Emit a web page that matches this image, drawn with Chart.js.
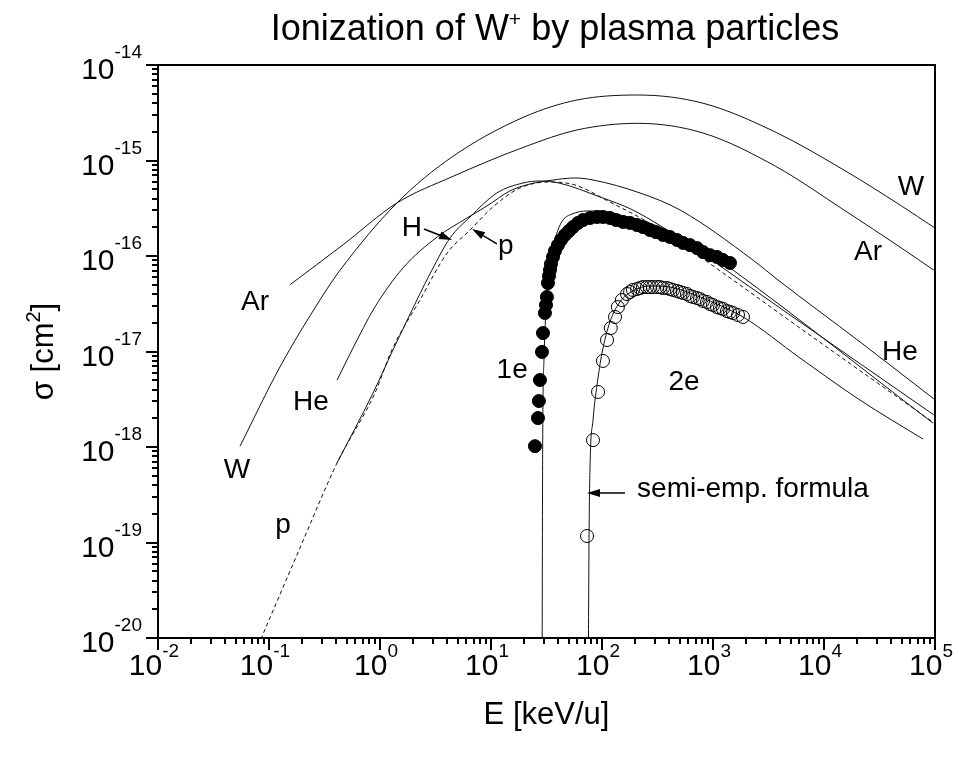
<!DOCTYPE html>
<html>
<head>
<meta charset="utf-8">
<title>Ionization of W+ by plasma particles</title>
<script src="https://cdn.jsdelivr.net/npm/chart.js@4.4.1/dist/chart.umd.min.js"></script>
<style>
  html, body { margin: 0; padding: 0; background: #fff; }
  canvas { display: block; }
</style>
</head>
<body>
<canvas id="ionChart" width="958" height="758"></canvas>
<script>
// energies in keV/u, cross sections in cm^2

// W projectile
const wE = [0.0548, 0.1256, 0.288, 0.4365, 1.42, 4.46, 19.8, 59.6, 209, 813, 3630, 16100, 48400, 100000];
const wSigma = [1.02e-18, 6.9e-18, 3.47e-17, 7.1e-17, 3.59e-16, 1.09e-15, 2.85e-15, 4.3e-15, 4.85e-15, 3.98e-15, 1.99e-15, 7.6e-16, 3.42e-16, 1.96e-16];

// Ar projectile
const arE = [0.1545, 0.468, 1.42, 4.46, 19.8, 59.6, 209, 813, 3630, 16100, 48400, 100000];
const arSigma = [5.0e-17, 1.32e-16, 3.59e-16, 6.76e-16, 1.38e-15, 2.09e-15, 2.45e-15, 1.94e-15, 8.75e-16, 2.89e-16, 1.24e-16, 6.97e-17];

// He projectile
const heE = [0.41, 0.56, 0.90, 1.61, 3.27, 6.08, 9.2, 14.8, 22.4, 36.2, 57.1, 83.0, 220, 505, 2290, 3850, 21100, 106000];
const heSigma = [5.0e-18, 1.04e-17, 2.92e-17, 7.48e-17, 1.58e-16, 2.50e-16, 3.34e-16, 4.8e-16, 5.67e-16, 6.25e-16, 6.56e-16, 6.25e-16, 4.57e-16, 3.03e-16, 9.08e-17, 5.61e-17, 1.26e-17, 2.96e-18];

// H atoms
const hE = [0.41, 0.865, 1.31, 2.15, 2.94, 4.27, 6.47, 11.3, 19.4, 27.6, 41.0, 95.9, 190, 583, 1750, 6080, 104000];
const hSigma = [6.8e-19, 3.67e-18, 1.04e-17, 3.46e-17, 7.13e-17, 1.54e-16, 2.56e-16, 4.57e-16, 5.81e-16, 6.1e-16, 5.81e-16, 4.15e-16, 3.03e-16, 1.37e-16, 5.61e-17, 2.04e-17, 2.06e-18];

// protons (dashed)
const pE = [0.0796, 0.190, 0.41, 0.90, 1.28, 2.29, 4.02, 6.47, 10.4, 18.2, 34.0, 57.1, 118, 288, 621, 1750, 6080, 104000];
const pSigma = [8.3e-21, 8.75e-20, 6.8e-19, 3.67e-18, 1.04e-17, 3.46e-17, 1.07e-16, 1.87e-16, 3.26e-16, 5.15e-16, 5.96e-16, 5.54e-16, 3.67e-16, 2.11e-16, 1.16e-16, 4.97e-17, 1.76e-17, 1.70e-18];

// single ionization, measured (filled) and semi-empirical formula
const e1E = [24.9, 26.5, 27.0, 27.6, 28.8, 29.4, 30.6, 31.3, 31.9, 32.6, 33.3, 34.0, 34.7, 36.2, 37.7, 40.1, 42.7, 46.4, 50.4, 54.8, 60.8, 67.4, 78.0, 90.2, 102, 118, 134, 155, 179, 207, 234, 270, 306, 354, 410, 474, 537, 621, 718, 813, 940, 1086, 1230, 1422];
const e1Sigma = [1.02e-18, 2.01e-18, 3.03e-18, 5.03e-18, 9.9e-18, 1.56e-17, 2.53e-17, 3.07e-17, 3.72e-17, 5.21e-17, 6.18e-17, 7.13e-17, 8.24e-17, 9.77e-17, 1.13e-16, 1.30e-16, 1.47e-16, 1.66e-16, 1.83e-16, 2.01e-16, 2.22e-16, 2.38e-16, 2.50e-16, 2.56e-16, 2.56e-16, 2.50e-16, 2.38e-16, 2.27e-16, 2.22e-16, 2.11e-16, 2.01e-16, 1.87e-16, 1.78e-16, 1.66e-16, 1.58e-16, 1.47e-16, 1.37e-16, 1.30e-16, 1.21e-16, 1.10e-16, 1.02e-16, 9.77e-17, 9.08e-17, 8.45e-17];
const fit1E = [28.8, 29.2, 30.0, 31.3, 33.3, 36.2, 40.1, 44.5, 53.7, 73.3, 95.9, 145, 333, 764, 1514, 95900];
const fit1Sigma = [1e-21, 9.3e-19, 8.1e-18, 2.72e-17, 6.3e-17, 1.24e-16, 1.87e-16, 2.38e-16, 2.75e-16, 2.96e-16, 2.96e-16, 2.69e-16, 2.01e-16, 1.24e-16, 7.13e-17, 1.78e-18];

// double ionization, measured (open) and semi-empirical formula
const e2E = [73.3, 83.0, 92.1, 102, 111, 120, 131, 139, 151, 168, 179, 190, 207, 220, 234, 254, 270, 288, 313, 333, 354, 385, 410, 437, 474, 505, 537, 583, 621, 661, 718, 764, 813, 883, 940, 1000, 1086, 1156, 1230, 1337, 1422, 1514, 1679, 1862];
const e2Sigma = [1.17e-19, 1.18e-18, 3.77e-18, 7.96e-18, 1.32e-17, 1.76e-17, 2.30e-17, 2.92e-17, 3.46e-17, 4.0e-17, 4.2e-17, 4.41e-17, 4.51e-17, 4.62e-17, 4.73e-17, 4.73e-17, 4.73e-17, 4.73e-17, 4.73e-17, 4.73e-17, 4.62e-17, 4.62e-17, 4.51e-17, 4.41e-17, 4.3e-17, 4.2e-17, 4.1e-17, 4.0e-17, 3.81e-17, 3.72e-17, 3.63e-17, 3.54e-17, 3.38e-17, 3.30e-17, 3.14e-17, 3.07e-17, 2.92e-17, 2.85e-17, 2.79e-17, 2.65e-17, 2.59e-17, 2.53e-17, 2.41e-17, 2.30e-17];
const fit2E = [74.8, 76.4, 78.0, 83.0, 90.2, 100, 118, 145, 190, 270, 410, 764, 1862, 6080, 21100, 78000];
const fit2Sigma = [1e-21, 1.06e-19, 6.18e-19, 1.92e-18, 4.46e-18, 9.64e-18, 2.04e-17, 3.30e-17, 4.3e-17, 4.85e-17, 4.73e-17, 3.72e-17, 2.30e-17, 8.55e-18, 3.10e-18, 1.21e-18];

// axis decades
const xDecades = [-2, -1, 0, 1, 2, 3, 4, 5];
const yDecades = [-20, -19, -18, -17, -16, -15, -14];

// curve labels: text, E, sigma (baseline), alignment
const labelText = ['W', 'Ar', 'He', 'p', 'H', 'p', '1e', '2e', 'W', 'Ar', 'He', 'semi-emp. formula'];
const labelE = [0.0515, 0.0748, 0.239, 0.1337, 1.94, 13.6, 15.5, 548, 60800, 24900, 48400, 207];
const labelSigma = [4.73e-19, 2.72e-17, 2.44e-18, 1.26e-19, 1.62e-16, 1.05e-16, 5.28e-18, 3.95e-18, 4.35e-16, 9.08e-17, 8.15e-18, 2.99e-19];
const labelAlign = ['center', 'center', 'center', 'center', 'center', 'center', 'center', 'center', 'center', 'center', 'center', 'left'];

// arrows: tail -> tip
const arrowFromE = [2.49, 11.3, 161];
const arrowFromSigma = [1.92e-16, 1.34e-16, 3.3e-19];
const arrowToE = [4.46, 6.75, 73.3];
const arrowToSigma = [1.47e-16, 1.92e-16, 3.3e-19];

const FONT = "'Liberation Sans', Arial, Helvetica, sans-serif";

function pairs(xs, ys) {
    return xs.map((v, i) => ({ x: v, y: ys[i] }));
}

function curve(xs, ys, dash) {
    return {
        data: pairs(xs, ys),
        showLine: true,
        borderColor: '#111',
        borderWidth: 1,
        borderDash: dash || [],
        pointRadius: 0,
        cubicInterpolationMode: 'monotone'
    };
}

function marks(xs, ys, filled) {
    return {
        data: pairs(xs, ys),
        showLine: false,
        pointStyle: 'circle',
        pointRadius: 6.5,
        borderWidth: 1,
        borderColor: '#000',
        backgroundColor: filled ? '#000' : 'rgba(0,0,0,0)'
    };
}

// draws text with superscripts, parts = [[text, isSup], ...]
function drawRich(ctx, parts, x, y, size, supSize, rise, align) {
    let total = 0;
    const widths = parts.map(p => {
        ctx.font = (p[1] ? supSize : size) + 'px ' + FONT;
        const w = ctx.measureText(p[0]).width;
        total += w;
        return w;
    });
    let cx = x;
    if (align === 'center') cx = x - total / 2;
    if (align === 'right') cx = x - total;
    ctx.textAlign = 'left';
    ctx.textBaseline = 'alphabetic';
    parts.forEach((p, i) => {
        ctx.font = (p[1] ? supSize : size) + 'px ' + FONT;
        ctx.fillText(p[0], cx, p[1] ? y - rise : y);
        cx += widths[i];
    });
}

function drawArrow(ctx, x1, y1, x2, y2) {
    const ang = Math.atan2(y2 - y1, x2 - x1);
    const len = 13, half = 4;
    const bx = x2 - len * Math.cos(ang), by = y2 - len * Math.sin(ang);
    ctx.lineWidth = 1.5;
    ctx.beginPath();
    ctx.moveTo(x1, y1);
    ctx.lineTo(bx, by);
    ctx.stroke();
    ctx.beginPath();
    ctx.moveTo(x2, y2);
    ctx.lineTo(bx + half * Math.sin(ang), by - half * Math.cos(ang));
    ctx.lineTo(bx - half * Math.sin(ang), by + half * Math.cos(ang));
    ctx.closePath();
    ctx.fill();
}

const decorations = {
    id: 'decorations',
    afterDatasetsDraw(chart) {
        const { ctx, chartArea: a } = chart;
        const xs = chart.scales.x, ys = chart.scales.y;
        ctx.save();
        ctx.strokeStyle = '#000';
        ctx.fillStyle = '#000';

        // frame
        ctx.lineWidth = 2;
        ctx.strokeRect(a.left, a.top, a.right - a.left, a.bottom - a.top);

        // x ticks (outside, below)
        xDecades.forEach(d => {
            for (let m = 1; m <= 9; m++) {
                if (d === 5 && m > 1) break;
                const px = Math.round(xs.getPixelForValue(m * Math.pow(10, d)));
                ctx.beginPath();
                ctx.moveTo(px, a.bottom);
                ctx.lineTo(px, a.bottom + (m === 1 ? 12 : 6));
                ctx.stroke();
            }
            const px = xs.getPixelForValue(Math.pow(10, d));
            drawRich(ctx, [['10', false], [String(d), true]], px - 4, a.bottom + 37, 30, 19, 18, 'center');
        });

        // y ticks (outside, left)
        yDecades.forEach(d => {
            for (let m = 1; m <= 9; m++) {
                if (d === -14 && m > 1) break;
                const py = Math.round(ys.getPixelForValue(m * Math.pow(10, d)));
                ctx.beginPath();
                ctx.moveTo(a.left, py);
                ctx.lineTo(a.left - (m === 1 ? 12 : 6), py);
                ctx.stroke();
            }
            const py = ys.getPixelForValue(Math.pow(10, d));
            drawRich(ctx, [['10', false], [String(d), true]], a.left - 16, py + 14, 30, 19, 21, 'right');
        });

        // title and axis titles
        drawRich(ctx, [['Ionization of W', false], ['+', true], [' by plasma particles', false]], 555, 40, 36, 21, 14, 'center');
        drawRich(ctx, [['E [keV/u]', false]], (a.left + a.right) / 2, a.bottom + 86, 31, 20, 0, 'center');
        ctx.save();
        ctx.translate(53, (a.top + a.bottom) / 2);
        ctx.rotate(-Math.PI / 2);
        drawRich(ctx, [['\u03c3 [cm', false], ['2', true], [']', false]], 0, 0, 31, 20, 13, 'center');
        ctx.restore();

        // curve labels
        labelText.forEach((t, i) => {
            const lx = xs.getPixelForValue(labelE[i]);
            const ly = ys.getPixelForValue(labelSigma[i]);
            drawRich(ctx, [[t, false]], lx, ly, 28, 18, 0, labelAlign[i]);
        });

        // arrows
        arrowFromE.forEach((e, i) => {
            drawArrow(ctx,
                xs.getPixelForValue(e), ys.getPixelForValue(arrowFromSigma[i]),
                xs.getPixelForValue(arrowToE[i]), ys.getPixelForValue(arrowToSigma[i]));
        });
        ctx.restore();
    }
};

document.addEventListener('DOMContentLoaded', function() {
    const ctx = document.getElementById('ionChart').getContext('2d');
    new Chart(ctx, {
        type: 'scatter',
        data: {
            datasets: [
                marks(e1E, e1Sigma, true),
                marks(e2E, e2Sigma, false),
                curve(wE, wSigma),
                curve(arE, arSigma),
                curve(heE, heSigma),
                curve(hE, hSigma),
                curve(pE, pSigma, [4, 3]),
                curve(fit1E, fit1Sigma),
                curve(fit2E, fit2Sigma)
            ]
        },
        options: {
            responsive: false,
            maintainAspectRatio: false,
            devicePixelRatio: 1,
            animation: false,
            layout: {
                padding: { left: 158, top: 65, right: 23, bottom: 120 }
            },
            plugins: {
                legend: { display: false },
                tooltip: { enabled: false }
            },
            scales: {
                x: { type: 'logarithmic', min: 1e-2, max: 1e5, display: false },
                y: { type: 'logarithmic', min: 1e-20, max: 1e-14, display: false }
            }
        },
        plugins: [decorations]
    });
});
</script>
</body>
</html>
